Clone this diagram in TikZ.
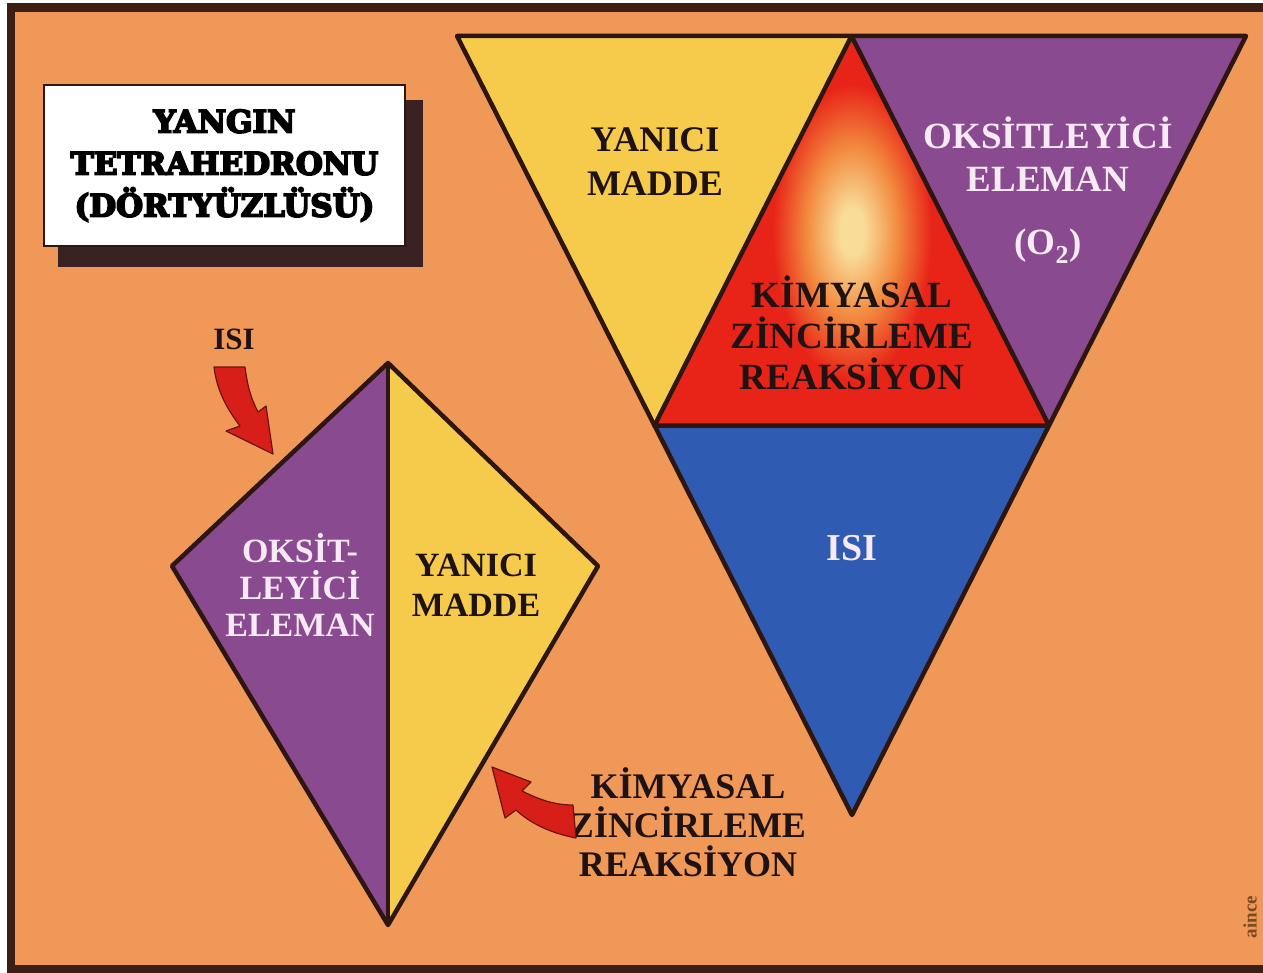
\documentclass[tikz,border=0pt]{standalone}
\usepackage{fontspec}
\setmainfont{Liberation Serif}
\newfontfamily\titlefont{DejaVu Serif}
\usetikzlibrary{arrows.meta}
\definecolor{bgorange}{HTML}{EF9858}
\definecolor{frame}{HTML}{3B1E14}
\definecolor{edge}{HTML}{2E1610}
\definecolor{fyellow}{HTML}{F6CB4C}
\definecolor{fpurple}{HTML}{8A4A90}
\definecolor{fblue}{HTML}{2F5BB3}
\definecolor{fred}{HTML}{E82318}
\definecolor{glowA}{HTML}{F9DC98}
\definecolor{glowB}{HTML}{F2893E}
\definecolor{darktext}{HTML}{1E1212}
\definecolor{lighttext}{HTML}{F8EAF5}
\definecolor{arrowred}{HTML}{D81E18}
\definecolor{arrowedge}{HTML}{6A1410}
\definecolor{shadowc}{HTML}{3A2222}
\definecolor{signc}{HTML}{7A4A20}
\pgfdeclareradialshading{glow}{\pgfpoint{0bp}{0bp}}{color(0bp)=(glowA); color(3bp)=(glowA); color(11bp)=(glowB); color(19bp)=(fred); color(25bp)=(fred); color(50bp)=(fred)}
\newcommand{\heavyon}{\special{pdf:literal direct 2 Tr 1.8 w 0 G}}
\newcommand{\heavyoff}{\special{pdf:literal direct 0 Tr}}
\begin{document}
\begin{tikzpicture}[x=1pt,y=-1pt,
  outline/.style={draw=edge, line width=4.5pt, line join=round},
  lbl/.style={font=\fontsize{36}{44}\selectfont\bfseries, align=center, inner sep=0pt, text=darktext},
  wlbl/.style={lbl, text=lighttext},
  titlestyle/.style={font=\titlefont\bfseries\fontsize{31}{42}\selectfont, align=center, text=black, inner sep=0pt},
  redarrow/.style={fill=arrowred, draw=arrowedge, line width=1.2pt, line join=round}]
\useasboundingbox (0,0) rectangle (1263,973);
% background and frame
\fill[white] (0,0) rectangle (1263,973);
\fill[frame] (7,3) rectangle (1263,973);
\fill[bgorange] (15,12) rectangle (1263,965);

% title box
\fill[shadowc] (58,100) rectangle (423,267);
\node[draw=edge, line width=1.5pt, fill=white, minimum width=361pt, minimum height=161pt, inner sep=0pt] (title) at (224.5,165.5) {};
\node[titlestyle] (titletext) at (title.center) {\heavyon YANGIN\\\heavyon TETRAHEDRONU\\\heavyon (DÖRTYÜZLÜSÜ)\heavyoff};

% big inverted triangle
\coordinate (A) at (457,36);
\coordinate (B) at (1246,36);
\coordinate (C) at (852,815);
\coordinate (T) at (851.5,36);
\coordinate (L) at (654.5,425.5);
\coordinate (R) at (1049,425.5);
\fill[fyellow] (A) -- (T) -- (L) -- cycle;
\fill[fpurple] (T) -- (B) -- (R) -- cycle;
\fill[fblue] (L) -- (R) -- (C) -- cycle;
\fill[fred] (T) -- (R) -- (L) -- cycle;
\begin{scope}
  \clip (T) -- (R) -- (L) -- cycle;
  \shade[shading=glow] (852,232) ellipse [x radius=105pt, y radius=195pt];
\end{scope}
\draw[outline] (A) -- (B) -- (C) -- cycle;
\draw[outline] (L) -- (T) -- (R) -- cycle;

\node[lbl] (yan) at (655,162) {YANICI\\MADDE};
\node[wlbl, font=\fontsize{37}{43}\selectfont\bfseries] (oks) at (1048,154) {OKSİTLEYİCİ\\ELEMAN};
\node[wlbl, font=\fontsize{37}{43}\selectfont\bfseries] (o2) at (1048,246) {(O\textsubscript{2})};
\node[lbl, font=\fontsize{37}{41}\selectfont\bfseries] (kim) at (852,333) {KİMYASAL\\ZİNCİRLEME\\REAKSİYON};
\node[wlbl, font=\fontsize{38}{44}\selectfont\bfseries] (isi) at (852,548) {ISI};

% kite
\coordinate (K1) at (388,363);
\coordinate (K2) at (172,566);
\coordinate (K3) at (598,566);
\coordinate (K4) at (388,925);
\fill[fpurple] (K1) -- (K2) -- (K4) -- cycle;
\fill[fyellow] (K1) -- (K3) -- (K4) -- cycle;
\draw[outline] (K1) -- (K2) -- (K4) -- (K3) -- cycle;
\draw[outline] (K1) -- (K4);
\node[wlbl, font=\fontsize{34}{37}\selectfont\bfseries] (koks) at (300,585) {OKSİT-\\LEYİCİ\\ELEMAN};
\node[lbl, font=\fontsize{34}{40}\selectfont\bfseries] (kyan) at (476,585) {YANICI\\MADDE};

% ISI label and arrow
\node[lbl, font=\fontsize{31}{36}\selectfont\bfseries] (isilbl) at (234,339) {ISI};
\path[redarrow] (214,367) -- (245,367) .. controls (248,390) and (252,400) .. (258,412) -- (266,406) -- (273,454) -- (226,431) -- (240,426) .. controls (228,410) and (217,392) .. cycle;

% KIMYASAL label and arrow
\node[lbl, font=\fontsize{36}{39}\selectfont\bfseries] (kimlbl) at (688,822) {KİMYASAL\\ZİNCİRLEME\\REAKSİYON};
\path[redarrow] (492,767) -- (531,782) -- (522,791) .. controls (540,800) and (555,805) .. (573,805) -- (576,838) .. controls (550,833) and (530,823) .. (516,810) -- (505,818) -- cycle;

% signature
\node[rotate=90, text=signc, font=\fontsize{19}{19}\selectfont\bfseries, inner sep=0pt] (sign) at (1250,917) {aince};
\end{tikzpicture}
\end{document}
